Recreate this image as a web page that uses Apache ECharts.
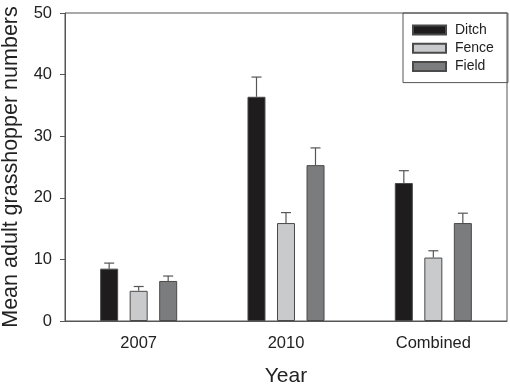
<!DOCTYPE html>
<html>
<head>
<meta charset="utf-8">
<script src="https://cdn.jsdelivr.net/npm/echarts@6/dist/echarts.min.js"></script>
<style>html,body{margin:0;padding:0;background:#fff}#c{width:510px;height:386px}</style>
</head>
<body>
<div id="c"></div>
<script>
var categories = ['2007', '2010', 'Combined'];
var seriesNames = ['Ditch', 'Fence', 'Field'];
var ditchMean = [8.5, 36.4, 22.4];
var fenceMean = [4.9, 15.9, 10.3];
var fieldMean = [6.5, 25.3, 15.9];
var ditchUpper = [9.4, 39.6, 24.4];
var fenceUpper = [5.6, 17.6, 11.4];
var fieldUpper = [7.3, 28.1, 17.5];
var yTicks = [0, 10, 20, 30, 40, 50];

var means = [ditchMean, fenceMean, fieldMean];
var uppers = [ditchUpper, fenceUpper, fieldUpper];
var colors = ['#1f1c1d', '#c9cacc', '#7b7c7e'];
var BAR_W = 18, BAR_STEP = 29.5;
var font = 'Liberation Sans, Arial, sans-serif';

var chart = echarts.init(document.getElementById('c'));
var series = [];
seriesNames.forEach(function (name, i) {
  series.push({
    name: name, type: 'bar', data: means[i], barWidth: BAR_W, barGap: '64%',
    itemStyle: { color: colors[i], borderColor: '#4a4a4a', borderWidth: 1 },
    z: 2
  });
});
seriesNames.forEach(function (name, i) {
  series.push({
    type: 'custom', silent: true, z: 1,
    data: categories.map(function (c, k) { return [k, means[i][k], uppers[i][k]]; }),
    renderItem: function (params, api) {
      var base = api.coord([api.value(0), api.value(1)]);
      var top = api.coord([api.value(0), api.value(2)]);
      var x = base[0] + (i - 1) * BAR_STEP;
      var st = { stroke: '#555', lineWidth: 1.2 };
      return { type: 'group', children: [
        { type: 'line', shape: { x1: x, y1: base[1], x2: x, y2: top[1] }, style: st },
        { type: 'line', shape: { x1: x - 5, y1: top[1], x2: x + 5, y2: top[1] }, style: st }
      ]};
    }
  });
});

chart.setOption({
  animation: false,
  textStyle: { fontFamily: font },
  grid: { left: 65, right: 3, top: 13, bottom: 65, show: true, borderColor: '#555', borderWidth: 1,
          containLabel: false, outerBoundsMode: 'none' },
  legend: {
    data: seriesNames, orient: 'vertical', left: 403, top: 13, icon: 'rect',
    borderColor: '#555', borderWidth: 1, borderRadius: 0,
    padding: [9, 14, 8, 9], itemWidth: 33, itemHeight: 9, itemGap: 2.3,
    textStyle: { fontSize: 14, color: '#222', lineHeight: 16, fontFamily: font, padding: [0, 0, 0, 4] }
  },
  xAxis: {
    type: 'category', data: categories,
    name: 'Year', nameLocation: 'middle', nameGap: 45,
    nameTextStyle: { fontSize: 21, color: '#222', fontFamily: font },
    axisLine: { lineStyle: { color: '#555' } },
    axisTick: { alignWithLabel: true, length: 5, lineStyle: { color: '#555' } },
    axisLabel: { fontSize: 16.5, color: '#222', margin: 14, fontFamily: font }
  },
  yAxis: {
    type: 'value', min: yTicks[0], max: yTicks[yTicks.length - 1], interval: yTicks[1] - yTicks[0],
    name: 'Mean adult grasshopper numbers', nameLocation: 'middle', nameGap: 43,
    nameTextStyle: { fontSize: 21.5, color: '#222', fontFamily: font },
    splitLine: { show: false },
    axisLine: { show: true, lineStyle: { color: '#555' } },
    axisTick: { show: true, length: 5, lineStyle: { color: '#555' } },
    axisLabel: { fontSize: 16.5, color: '#222', margin: 13, fontFamily: font }
  },
  series: series
});
</script>
</body>
</html>
